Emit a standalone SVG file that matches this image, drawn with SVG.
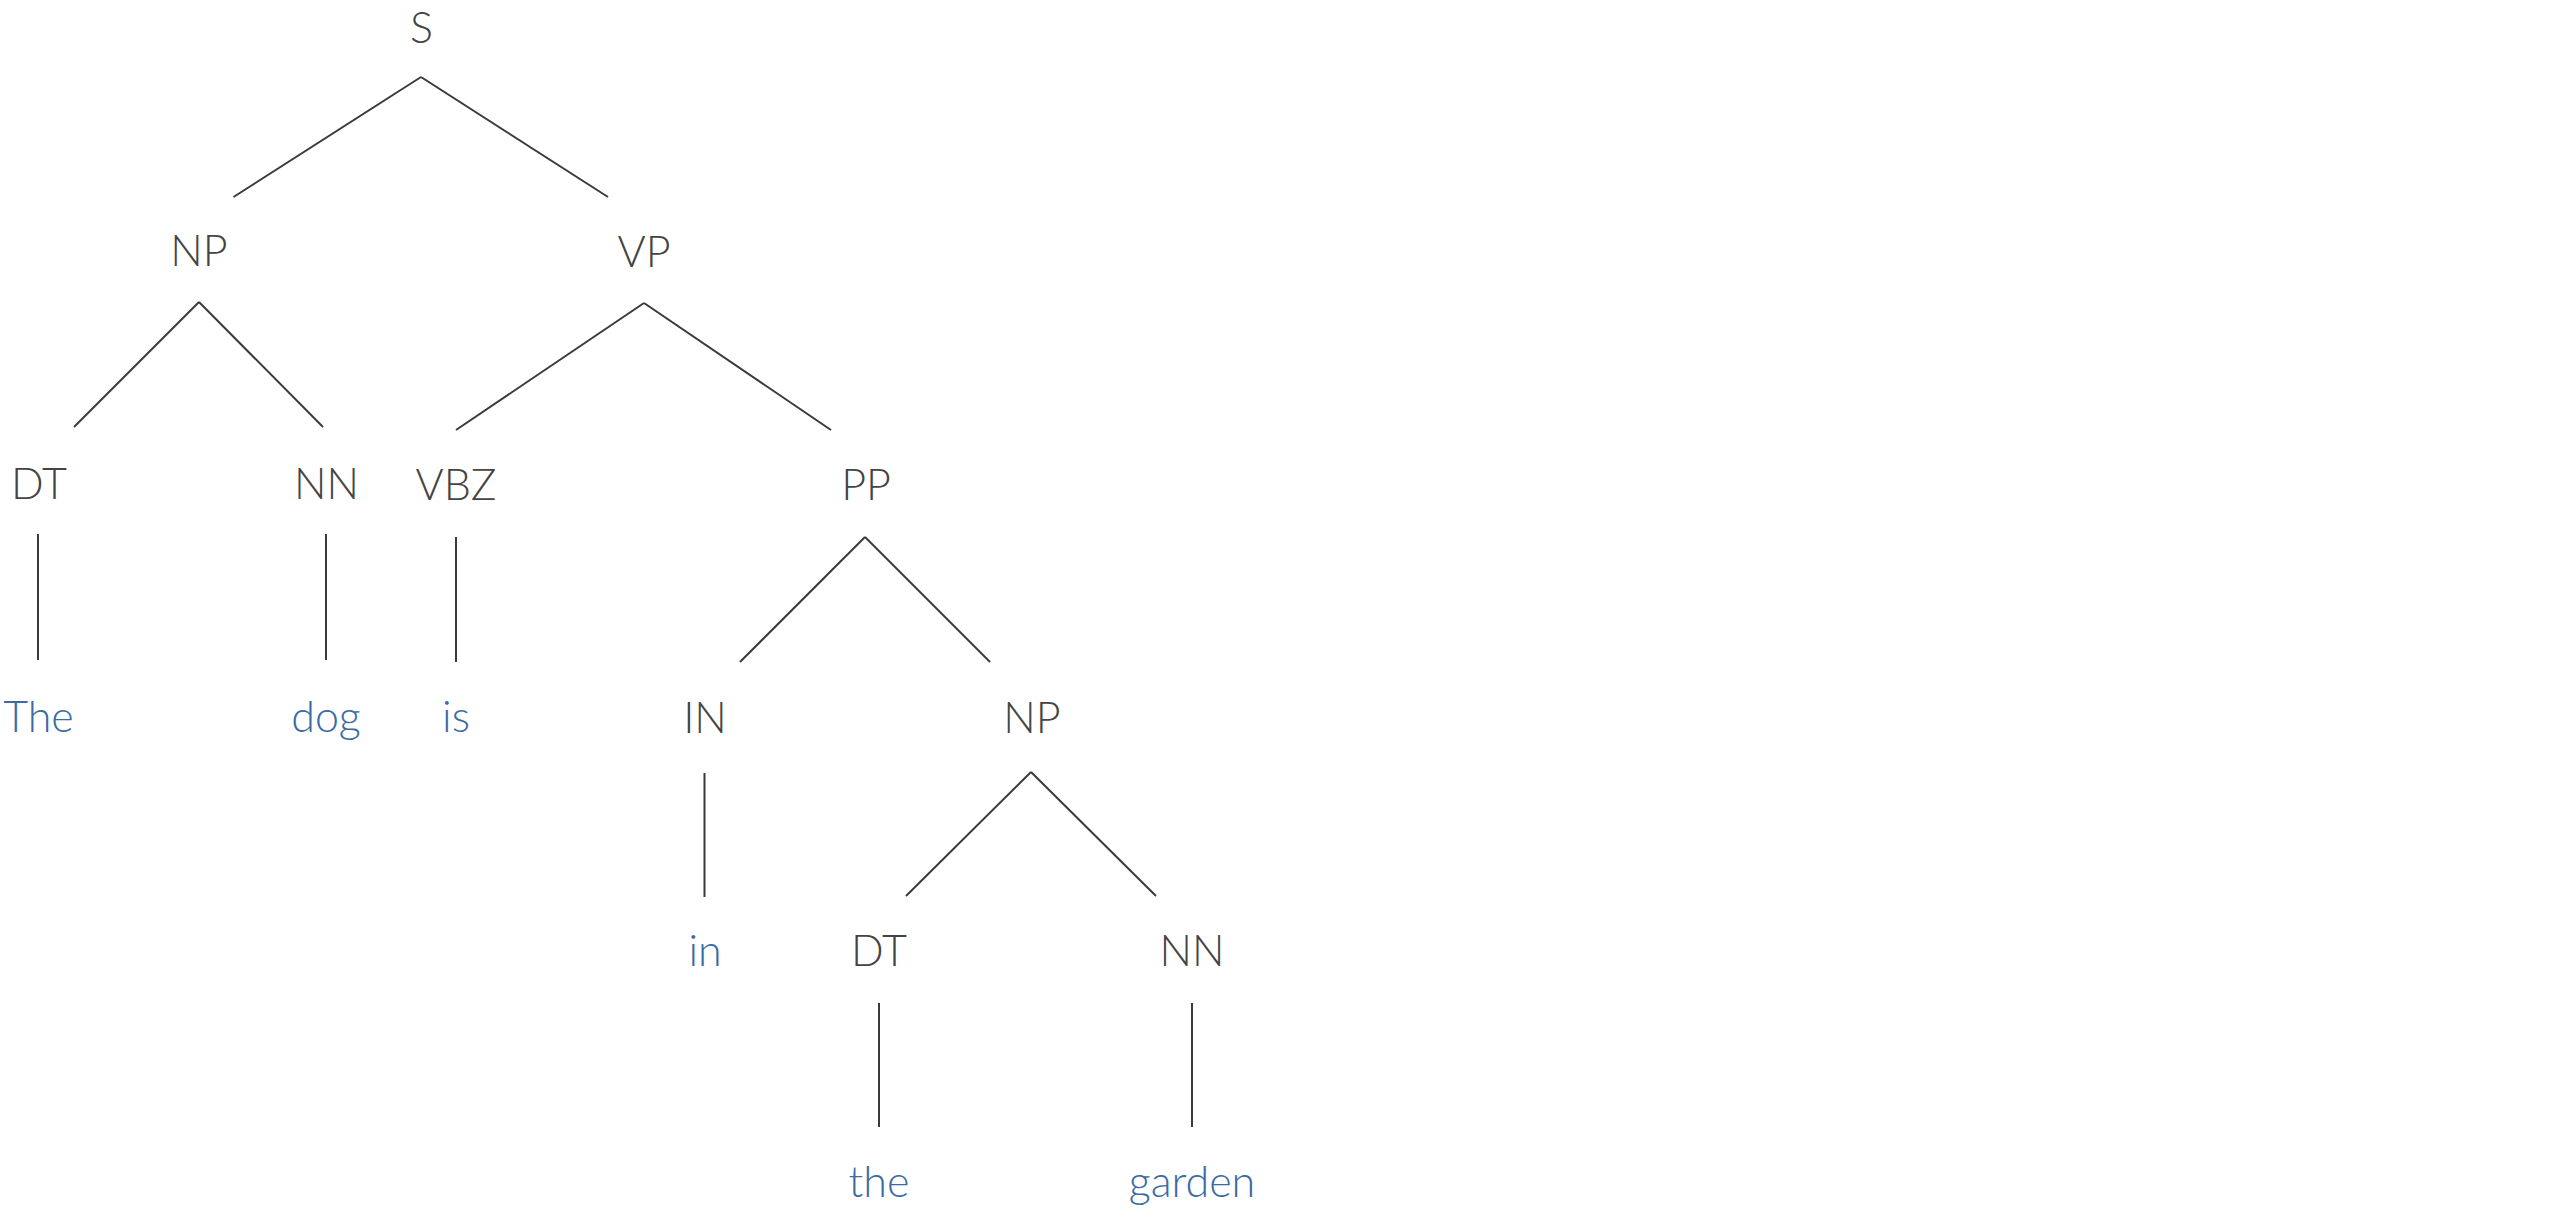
<svg xmlns="http://www.w3.org/2000/svg" width="2560" height="1209" viewBox="0 0 2560 1209">
<style>
  text { font-family: Lato, "Source Sans Pro", "Open Sans", sans-serif; font-weight: 300; font-size: 43px; text-anchor: middle; }
  .tag { fill: #444444; }
  .word { fill: #3b6ba5; }
  .edges line { stroke: #3a3a3a; stroke-width: 2; stroke-linecap: butt; }
</style>
<rect width="2560" height="1209" fill="#ffffff"/>
<g id="connectors" class="edges">
  <line x1="421" y1="77" x2="233.5" y2="197"/>
  <line x1="421" y1="77" x2="608" y2="197"/>
  <line x1="199" y1="302" x2="74" y2="427"/>
  <line x1="199" y1="302" x2="323" y2="427"/>
  <line x1="644" y1="303" x2="456" y2="430"/>
  <line x1="644" y1="303" x2="831" y2="430"/>
  <line x1="38" y1="534" x2="38" y2="660"/>
  <line x1="326" y1="534" x2="326" y2="660"/>
  <line x1="456" y1="537" x2="456" y2="662"/>
  <line x1="865" y1="537" x2="740" y2="662"/>
  <line x1="865" y1="537" x2="990" y2="662"/>
  <line x1="704.5" y1="773" x2="704.5" y2="897"/>
  <line x1="1031" y1="772" x2="906" y2="896"/>
  <line x1="1031" y1="772" x2="1156" y2="896"/>
  <line x1="879" y1="1003" x2="879" y2="1127"/>
  <line x1="1192" y1="1003" x2="1192" y2="1127"/>
</g>
<g id="node-S"><text class="tag" x="421.5" y="43">S</text></g>
<g id="node-NP1"><text class="tag" x="199" y="266">NP</text></g>
<g id="node-VP"><text class="tag" x="644" y="267">VP</text></g>
<g id="node-DT1"><text class="tag" x="39" y="499">DT</text></g>
<g id="node-NN1"><text class="tag" x="326.5" y="499">NN</text></g>
<g id="node-VBZ"><text class="tag" x="456" y="500">VBZ</text></g>
<g id="node-PP"><text class="tag" x="866" y="500">PP</text></g>
<g id="word-The"><text class="word" x="38.5" y="732">The</text></g>
<g id="word-dog"><text class="word" x="326" y="732">dog</text></g>
<g id="word-is"><text class="word" x="456" y="732">is</text></g>
<g id="node-IN"><text class="tag" x="705" y="733">IN</text></g>
<g id="node-NP2"><text class="tag" x="1032" y="733">NP</text></g>
<g id="word-in"><text class="word" x="705" y="966">in</text></g>
<g id="node-DT2"><text class="tag" x="879" y="966">DT</text></g>
<g id="node-NN2"><text class="tag" x="1192" y="966">NN</text></g>
<g id="word-the"><text class="word" x="879" y="1197">the</text></g>
<g id="word-garden"><text class="word" x="1192" y="1197">garden</text></g>
</svg>
